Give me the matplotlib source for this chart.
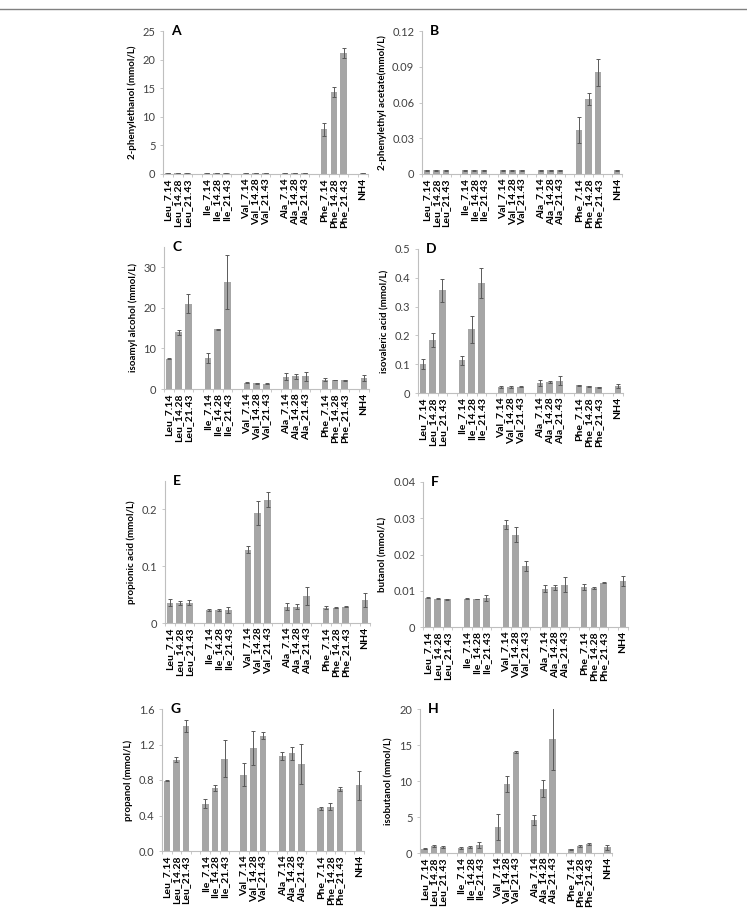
import numpy as np
import matplotlib
matplotlib.use('Agg')
import matplotlib.pyplot as plt
from matplotlib.lines import Line2D

plt.rcParams['font.family'] = ['Lato', 'DejaVu Sans']

# categories
groups = ['Leu', 'Ile', 'Val', 'Ala', 'Phe']
doses = ['7.14', '14.28', '21.43']
labels = [g + '_' + d for g in groups for d in doses] + ['NH4']

# A 2-phenylethanol
a_val = [0.15, 0.15, 0.15, 0.15, 0.15, 0.15, 0.15, 0.15, 0.15, 0.2, 0.2, 0.2, 7.8, 14.3, 21.15, 0.2]
a_err = [0.03, 0.03, 0.03, 0.03, 0.03, 0.03, 0.03, 0.03, 0.03, 0.03, 0.03, 0.03, 1.15, 0.9, 0.9, 0.03]
# B 2-phenylethyl acetate
b_val = [0.003, 0.003, 0.003, 0.003, 0.003, 0.003, 0.003, 0.003, 0.003, 0.003, 0.003, 0.003, 0.0367, 0.0628, 0.0852, 0.003]
b_err = [0.0002] * 12 + [0.011, 0.005, 0.0115, 0.0002]
# C isoamyl alcohol
c_val = [7.5, 14.0, 21.0, 7.6, 14.7, 26.4, 1.6, 1.4, 1.3, 3.0, 3.1, 3.1, 2.3, 2.2, 2.1, 2.7]
c_err = [0.2, 0.6, 2.3, 1.2, 0.1, 6.7, 0.1, 0.1, 0.1, 0.9, 0.6, 1.1, 0.3, 0.1, 0.1, 0.8]
# D isovaleric acid
d_val = [0.101, 0.183, 0.356, 0.113, 0.221, 0.382, 0.022, 0.020, 0.022, 0.036, 0.038, 0.043, 0.027, 0.024, 0.020, 0.024]
d_err = [0.017, 0.024, 0.040, 0.016, 0.048, 0.053, 0.004, 0.003, 0.002, 0.010, 0.005, 0.015, 0.002, 0.002, 0.001, 0.008]
# E propionic acid
e_val = [0.036, 0.035, 0.036, 0.023, 0.023, 0.023, 0.129, 0.193, 0.217, 0.029, 0.029, 0.047, 0.027, 0.027, 0.029, 0.040]
e_err = [0.006, 0.004, 0.005, 0.001, 0.001, 0.005, 0.006, 0.021, 0.013, 0.006, 0.004, 0.016, 0.003, 0.001, 0.001, 0.012]
# F butanol
f_val = [0.0081, 0.0078, 0.0076, 0.0078, 0.0077, 0.0081, 0.0282, 0.0255, 0.0168, 0.0106, 0.0109, 0.0117, 0.0110, 0.0108, 0.0122, 0.0127]
f_err = [0.0001, 0.0001, 0.0001, 0.0001, 0.0001, 0.0008, 0.0012, 0.0021, 0.0014, 0.0010, 0.0006, 0.0020, 0.0008, 0.0003, 0.0001, 0.0015]
# G propanol
g_val = [0.79, 1.03, 1.41, 0.535, 0.71, 1.04, 0.86, 1.16, 1.30, 1.07, 1.10, 0.98, 0.48, 0.50, 0.70, 0.74]
g_err = [0.005, 0.03, 0.07, 0.05, 0.035, 0.21, 0.13, 0.19, 0.04, 0.05, 0.07, 0.23, 0.02, 0.04, 0.02, 0.16]
# H isobutanol
h_val = [0.6, 0.95, 0.85, 0.7, 0.85, 1.1, 3.6, 9.6, 14.05, 4.55, 8.95, 15.8, 0.5, 0.95, 1.25, 0.8]
h_err = [0.1, 0.15, 0.15, 0.1, 0.1, 0.45, 1.8, 1.1, 0.1, 0.7, 1.15, 4.3, 0.05, 0.1, 0.1, 0.35]

panels = [
    ('A', '2-phenylethanol (mmol/L)', a_val, a_err, 25, [0, 5, 10, 15, 20, 25], '%g'),
    ('B', '2-phenylethyl acetate(mmol/L)', b_val, b_err, 0.12, [0, 0.03, 0.06, 0.09, 0.12], '%g'),
    ('C', 'isoamyl alcohol (mmol/L)', c_val, c_err, 35, [0, 10, 20, 30], '%g'),
    ('D', 'isovaleric acid (mmol/L)', d_val, d_err, 0.5, [0, 0.1, 0.2, 0.3, 0.4, 0.5], '%g'),
    ('E', 'propionic acid (mmol/L)', e_val, e_err, 0.25, [0, 0.1, 0.2], '%g'),
    ('F', 'butanol (mmol/L)', f_val, f_err, 0.04, [0, 0.01, 0.02, 0.03, 0.04], '%g'),
    ('G', 'propanol (mmol/L)', g_val, g_err, 1.6, [0, 0.4, 0.8, 1.2, 1.6], '%.1f'),
    ('H', 'isobutanol (mmol/L)', h_val, h_err, 20, [0, 5, 10, 15, 20], '%g'),
]

# axes boxes in pixels: left, top, right, bottom
boxes = [
    (163, 31, 368, 174), (422, 31, 622, 174),
    (164, 247, 369, 389), (418, 249, 623, 393),
    (165, 481, 370, 623), (423, 482, 628, 627),
    (162, 709, 364, 851), (420, 709, 612, 853),
]

W, H = 747, 914
fig = plt.figure(figsize=(W / 100, H / 100), dpi=100)
fig.add_artist(Line2D([0, 1], [1 - 9 / H, 1 - 9 / H], color='#808080', lw=1.0))

# x positions: one empty slot between groups
pos = []
for gi in range(len(groups)):
    for di in range(len(doses)):
        pos.append(gi * 4 + di)
pos.append(len(groups) * 4)
pos = np.array(pos)

axis_col = '#bfbfbf'
for (letter, ylab, vals, errs, ymax, yt, fmt), (l, t, r, b) in zip(panels, boxes):
    ax = fig.add_axes([l / W, 1 - b / H, (r - l) / W, (b - t) / H])
    ax.bar(pos, vals, width=0.68, color='#a6a6a6', yerr=errs,
           error_kw=dict(ecolor='#595959', elinewidth=0.7, capsize=1.6, capthick=0.7))
    ax.set_xlim(-0.5, pos[-1] + 0.5)
    ax.set_ylim(0, ymax)
    ax.set_yticks(yt)
    ax.set_yticklabels([fmt % v for v in yt], fontsize=8, color='#404040')
    ax.set_xticks(pos)
    ax.set_xticklabels(labels, rotation=90, fontsize=7.5, fontweight='bold')
    ax.set_xticks(np.arange(-0.5, pos[-1] + 1, 1), minor=True)
    ax.tick_params(axis='x', which='major', length=0, pad=3)
    ax.tick_params(axis='x', which='minor', length=2.5, color=axis_col, width=0.6)
    ax.tick_params(axis='y', length=2.5, color=axis_col, width=0.6, pad=3)
    for s in ['top', 'right']:
        ax.spines[s].set_visible(False)
    for s in ['left', 'bottom']:
        ax.spines[s].set_color(axis_col)
        ax.spines[s].set_linewidth(0.8)
    ax.set_ylabel(ylab, fontsize=7, fontweight='bold', labelpad=4)
    ax.text(0.04, 1.0, letter, transform=ax.transAxes, fontsize=10,
            fontweight='bold', va='center', ha='left')

fig.savefig('out.png', dpi=100)
